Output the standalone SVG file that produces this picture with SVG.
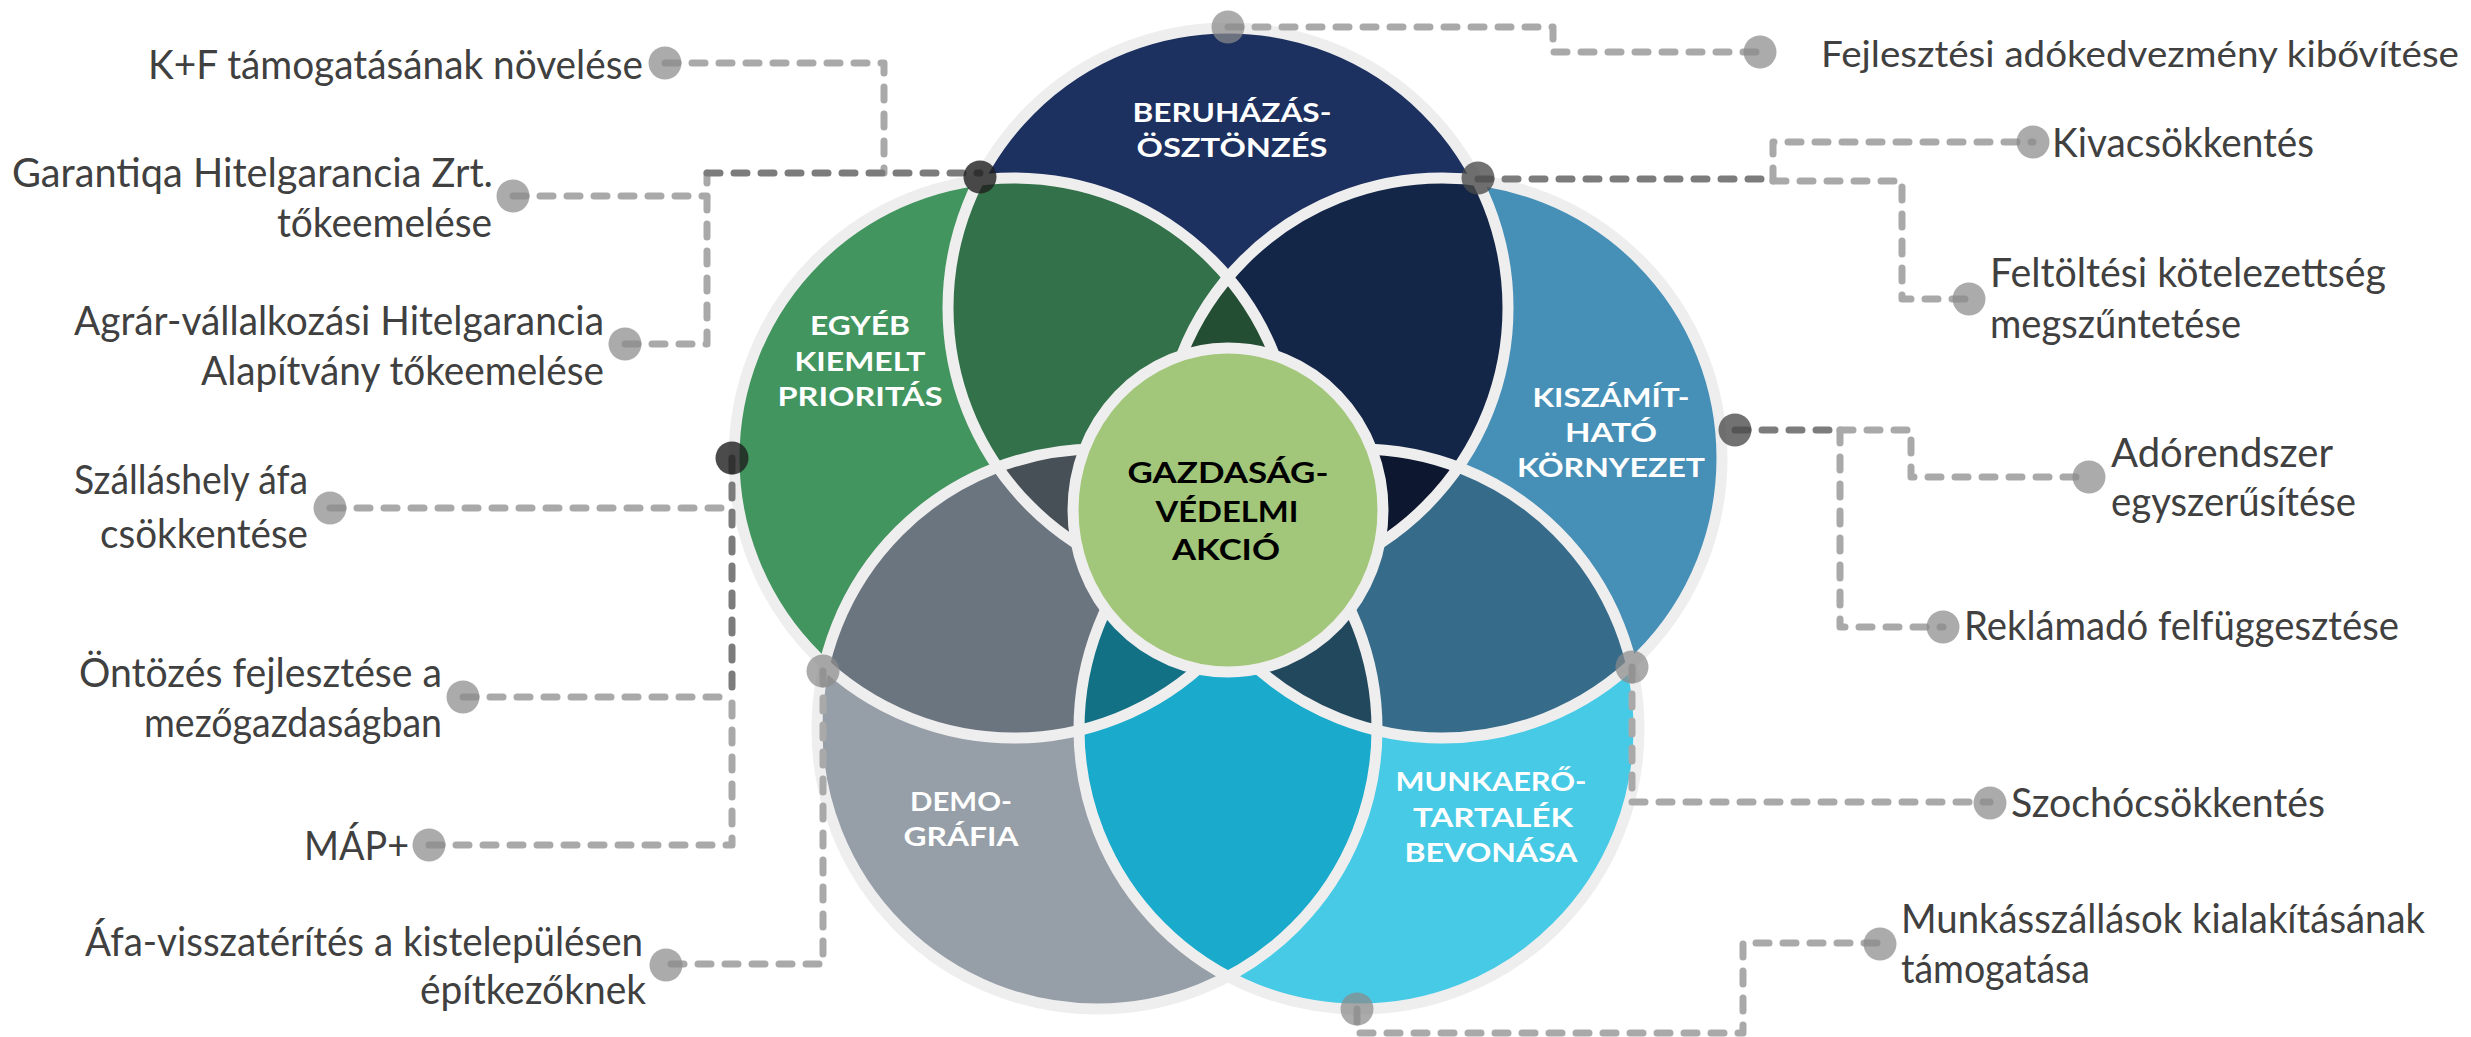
<svg xmlns="http://www.w3.org/2000/svg" width="2471" height="1037" viewBox="0 0 2471 1037">
<style>
.cn{fill:none;stroke:#a9a9a9;stroke-width:7;stroke-dasharray:13 14;stroke-linecap:round;stroke-linejoin:round}
.cnd{fill:none;stroke:#7c7c7c;stroke-width:7;stroke-dasharray:13 14;stroke-linecap:round;stroke-linejoin:round}
.dot{fill:#8a8a8a;fill-opacity:0.72}
.dotd{fill:#1e1e1e;fill-opacity:0.8}
.dotm{fill:#4a4a4a;fill-opacity:0.78}
.ol{fill:none;stroke:#efeeee;stroke-width:11}
.cl{font-family:Lato,"Open Sans","Liberation Sans",sans-serif;font-weight:bold;font-size:26.5px;fill:#ffffff;text-anchor:middle}
.cc{font-family:Lato,"Open Sans","Liberation Sans",sans-serif;font-weight:bold;font-size:28px;fill:#000000;text-anchor:middle}
.lt{font-family:Lato,"Open Sans","Liberation Sans",sans-serif;font-size:40px;fill:#404040}
.le{text-anchor:end}
.ls{text-anchor:start}
</style>
<defs>
<clipPath id="cT"><circle cx="1228" cy="308" r="280"/></clipPath>
<clipPath id="cUL"><circle cx="1014" cy="458" r="280"/></clipPath>
<clipPath id="cUR"><circle cx="1442" cy="458" r="280"/></clipPath>
<clipPath id="cLL"><circle cx="1097" cy="729" r="280"/></clipPath>
<clipPath id="cLR"><circle cx="1359" cy="729" r="280"/></clipPath>
</defs>
<rect width="2471" height="1037" fill="#ffffff"/>

<g id="venn">
<g id="node-beruhazas"><circle cx="1228" cy="308" r="280" fill="#1c3160"/></g>
<g id="node-egyeb"><circle cx="1014" cy="458" r="280" fill="#42955f"/></g>
<g id="node-kiszamithato"><circle cx="1442" cy="458" r="280" fill="#4690b8"/></g>
<g id="node-demografia"><circle cx="1097" cy="729" r="280" fill="#969ea7"/></g>
<g id="node-munkaero"><circle cx="1359" cy="729" r="280" fill="#47cae6"/></g>
<g id="overlaps">
<circle cx="1014" cy="458" r="280" fill="#327149" clip-path="url(#cT)"/>
<circle cx="1442" cy="458" r="280" fill="#142647" clip-path="url(#cT)"/>
<circle cx="1097" cy="729" r="280" fill="#6b7580" clip-path="url(#cUL)"/>
<circle cx="1359" cy="729" r="280" fill="#366b8a" clip-path="url(#cUR)"/>
<circle cx="1359" cy="729" r="280" fill="#1aaacb" clip-path="url(#cLL)"/>
<g clip-path="url(#cT)"><circle cx="1442" cy="458" r="280" fill="#244e33" clip-path="url(#cUL)"/></g>
<g clip-path="url(#cT)"><circle cx="1097" cy="729" r="280" fill="#474f57" clip-path="url(#cUL)"/></g>
<g clip-path="url(#cT)"><circle cx="1359" cy="729" r="280" fill="#0d1830" clip-path="url(#cUR)"/></g>
<g clip-path="url(#cUL)"><circle cx="1359" cy="729" r="280" fill="#137186" clip-path="url(#cLL)"/></g>
<g clip-path="url(#cUR)"><circle cx="1097" cy="729" r="280" fill="#22485d" clip-path="url(#cLR)"/></g>
</g>
<g id="outlines">
<circle class="ol" cx="1228" cy="308" r="280"/>
<circle class="ol" cx="1014" cy="458" r="280"/>
<circle class="ol" cx="1442" cy="458" r="280"/>
<circle class="ol" cx="1097" cy="729" r="280"/>
<circle class="ol" cx="1359" cy="729" r="280"/>
</g>
<g id="node-center"><ellipse cx="1228" cy="510" rx="155" ry="162" fill="#a3c77a" stroke="#efeeee" stroke-width="11"/></g>
</g>

<g id="circle-labels">
<text class="cl" x="1232" y="122" textLength="199" lengthAdjust="spacingAndGlyphs">BERUHÁZÁS-</text>
<text class="cl" x="1232" y="157" textLength="191" lengthAdjust="spacingAndGlyphs">ÖSZTÖNZÉS</text>
<text class="cl" x="860" y="335" textLength="100" lengthAdjust="spacingAndGlyphs">EGYÉB</text>
<text class="cl" x="860" y="371" textLength="131" lengthAdjust="spacingAndGlyphs">KIEMELT</text>
<text class="cl" x="860" y="406" textLength="165" lengthAdjust="spacingAndGlyphs">PRIORITÁS</text>
<text class="cl" x="1611" y="407" textLength="157" lengthAdjust="spacingAndGlyphs">KISZÁMÍT-</text>
<text class="cl" x="1611" y="442" textLength="92" lengthAdjust="spacingAndGlyphs">HATÓ</text>
<text class="cl" x="1611" y="477" textLength="188" lengthAdjust="spacingAndGlyphs">KÖRNYEZET</text>
<text class="cl" x="961" y="811" textLength="102" lengthAdjust="spacingAndGlyphs">DEMO-</text>
<text class="cl" x="961" y="846" textLength="115" lengthAdjust="spacingAndGlyphs">GRÁFIA</text>
<text class="cl" x="1491" y="791" textLength="191" lengthAdjust="spacingAndGlyphs">MUNKAERŐ-</text>
<text class="cl" x="1493" y="827" textLength="160" lengthAdjust="spacingAndGlyphs">TARTALÉK</text>
<text class="cl" x="1491" y="862" textLength="173" lengthAdjust="spacingAndGlyphs">BEVONÁSA</text>
<text class="cc" x="1228" y="483" textLength="201" lengthAdjust="spacingAndGlyphs">GAZDASÁG-</text>
<text class="cc" x="1227" y="522" textLength="143" lengthAdjust="spacingAndGlyphs">VÉDELMI</text>
<text class="cc" x="1226" y="560" textLength="108" lengthAdjust="spacingAndGlyphs">AKCIÓ</text>
</g>

<g id="connectors">
<path class="cn" d="M665,63 H884 V173"/>
<path class="cn" d="M513,196 H707"/>
<path class="cn" d="M625,344 H707 V173"/>
<path class="cnd" d="M707,173 H980"/>
<path class="cn" d="M330,508 H732"/>
<path class="cn" d="M463,697 H732"/>
<path class="cn" d="M429,845 H732 V690"/>
<path class="cnd" d="M732,458 V690"/>
<path class="cn" d="M823,671 V964 H666"/>
<path class="cn" d="M1228,27 H1553 V52 H1760"/>
<path class="cnd" d="M1478,179 H1773"/>
<path class="cn" d="M1773,181 V142 H2033"/>
<path class="cn" d="M1773,181 H1902 V299 H1969"/>
<path class="cnd" d="M1735,430 H1840"/>
<path class="cn" d="M1840,430 H1911 V477 H2089"/>
<path class="cn" d="M1840,430 V627 H1943"/>
<path class="cn" d="M1632,667 V802 H1990"/>
<path class="cn" d="M1357,1009 V1033 H1743 V943 H1880"/>
</g>

<g id="dots">
<circle class="dot" cx="665" cy="63" r="16.5"/>
<circle class="dot" cx="513" cy="196" r="16.5"/>
<circle class="dot" cx="625" cy="344" r="16.5"/>
<circle class="dot" cx="330" cy="508" r="16.5"/>
<circle class="dot" cx="463" cy="697" r="16.5"/>
<circle class="dot" cx="429" cy="845" r="16.5"/>
<circle class="dot" cx="666" cy="965" r="16.5"/>
<circle class="dot" cx="1228" cy="27" r="16.5"/>
<circle class="dot" cx="1760" cy="52" r="16.5"/>
<circle class="dot" cx="2033" cy="142" r="16.5"/>
<circle class="dot" cx="1969" cy="299" r="16.5"/>
<circle class="dot" cx="2089" cy="477" r="16.5"/>
<circle class="dot" cx="1943" cy="627" r="16.5"/>
<circle class="dot" cx="1990" cy="803" r="16.5"/>
<circle class="dot" cx="1880" cy="944" r="16.5"/>
<circle class="dot" cx="823" cy="671" r="16.5"/>
<circle class="dot" cx="1632" cy="667" r="16.5"/>
<circle class="dot" cx="1357" cy="1009" r="16.5"/>
<circle class="dotd" cx="980" cy="177" r="16.5"/>
<circle class="dotd" cx="732" cy="458" r="16.5"/>
<circle class="dotm" cx="1478" cy="178" r="16.5"/>
<circle class="dotm" cx="1735" cy="430" r="16.5"/>
</g>

<g id="labels-left">
<text class="lt le" x="643" y="79" textLength="495" lengthAdjust="spacingAndGlyphs">K+F támogatásának növelése</text>
<text class="lt le" x="493" y="187" textLength="481" lengthAdjust="spacingAndGlyphs">Garantiqa Hitelgarancia Zrt.</text>
<text class="lt le" x="492" y="237" textLength="215" lengthAdjust="spacingAndGlyphs">tőkeemelése</text>
<text class="lt le" x="604" y="335" textLength="530" lengthAdjust="spacingAndGlyphs">Agrár-vállalkozási Hitelgarancia</text>
<text class="lt le" x="604" y="385" textLength="403" lengthAdjust="spacingAndGlyphs">Alapítvány tőkeemelése</text>
<text class="lt le" x="308" y="494" textLength="234" lengthAdjust="spacingAndGlyphs">Szálláshely áfa</text>
<text class="lt le" x="308" y="548" textLength="208" lengthAdjust="spacingAndGlyphs">csökkentése</text>
<text class="lt le" x="442" y="687" textLength="363" lengthAdjust="spacingAndGlyphs">Öntözés fejlesztése a</text>
<text class="lt le" x="442" y="737" textLength="298" lengthAdjust="spacingAndGlyphs">mezőgazdaságban</text>
<text class="lt le" x="409" y="860" textLength="105" lengthAdjust="spacingAndGlyphs">MÁP+</text>
<text class="lt le" x="643" y="956" textLength="558" lengthAdjust="spacingAndGlyphs">Áfa-visszatérítés a kistelepülésen</text>
<text class="lt le" x="646" y="1004" textLength="226" lengthAdjust="spacingAndGlyphs">építkezőknek</text>
</g>

<g id="labels-right">
<text class="lt ls" x="1821" y="67" font-size="36" style="font-size:36px" textLength="638" lengthAdjust="spacingAndGlyphs">Fejlesztési adókedvezmény kibővítése</text>
<text class="lt ls" x="2052" y="157" textLength="262" lengthAdjust="spacingAndGlyphs">Kivacsökkentés</text>
<text class="lt ls" x="1990" y="287" textLength="396" lengthAdjust="spacingAndGlyphs">Feltöltési kötelezettség</text>
<text class="lt ls" x="1990" y="338" textLength="251" lengthAdjust="spacingAndGlyphs">megszűntetése</text>
<text class="lt ls" x="2111" y="467" textLength="222" lengthAdjust="spacingAndGlyphs">Adórendszer</text>
<text class="lt ls" x="2111" y="516" textLength="245" lengthAdjust="spacingAndGlyphs">egyszerűsítése</text>
<text class="lt ls" x="1964" y="640" textLength="435" lengthAdjust="spacingAndGlyphs">Reklámadó felfüggesztése</text>
<text class="lt ls" x="2011" y="817" textLength="314" lengthAdjust="spacingAndGlyphs">Szochócsökkentés</text>
<text class="lt ls" x="1901" y="933" textLength="524" lengthAdjust="spacingAndGlyphs">Munkásszállások kialakításának</text>
<text class="lt ls" x="1901" y="983" textLength="189" lengthAdjust="spacingAndGlyphs">támogatása</text>
</g>
</svg>
